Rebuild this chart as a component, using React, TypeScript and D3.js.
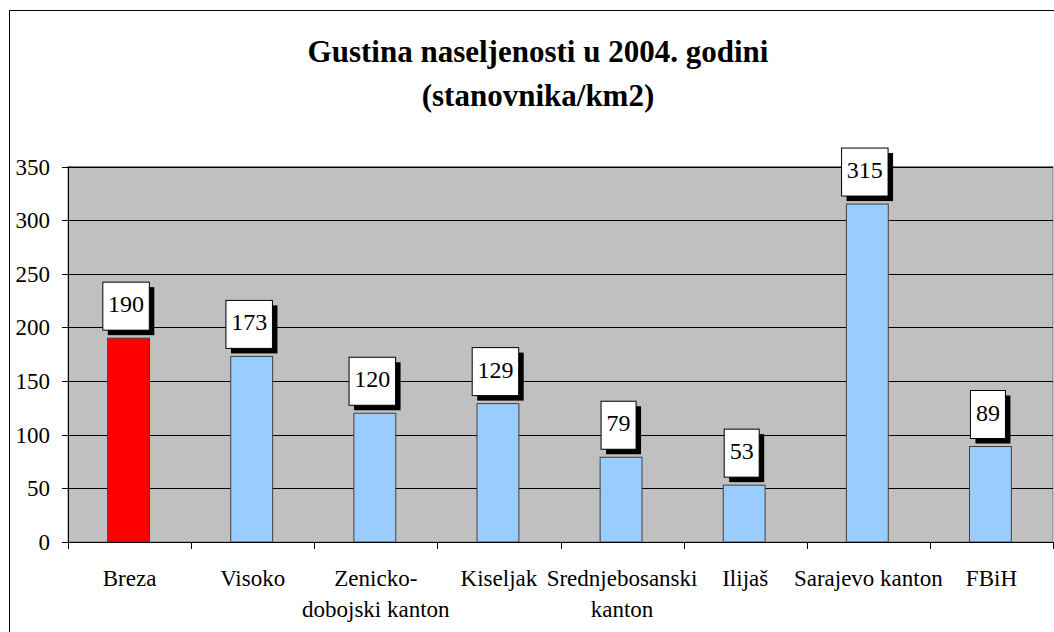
import React from "react";
import * as d3 from "d3";

const categories: string[][] = [
  ["Breza"],
  ["Visoko"],
  ["Zenicko-", "dobojski kanton"],
  ["Kiseljak"],
  ["Srednjebosanski", "kanton"],
  ["Ilijaš"],
  ["Sarajevo kanton"],
  ["FBiH"],
];
const values: number[] = [190, 173, 120, 129, 79, 53, 315, 89];
const barColors: string[] = ["#FF0000", "#99CCFF", "#99CCFF", "#99CCFF", "#99CCFF", "#99CCFF", "#99CCFF", "#99CCFF"];
const yTicks: number[] = [0, 50, 100, 150, 200, 250, 300, 350];
const titleLines: string[] = ["Gustina naseljenosti u 2004. godini", "(stanovnika/km2)"];

const W = 1054;
const H = 632;
const left = 68;
const right = 1053;
const top = 166.5;
const bottom = 542;
const font = "Liberation Serif, Times New Roman, DejaVu Serif, serif";

export default function App() {
  const idx = values.map((_, i) => String(i));
  const x = d3.scaleBand<string>().domain(idx).range([left, right]).paddingInner(0.66).paddingOuter(0.33);
  const y = d3.scaleLinear().domain([0, 350]).range([bottom, top]);
  const step = x.step();
  const boundaries = d3.range(values.length + 1).map((i) => left + i * step);
  const ts: React.CSSProperties = { fontFamily: font };

  return (
    <svg width={W} height={H} style={{ position: "absolute", left: 0, top: 0, background: "#fff", fontFamily: font }}>
      <rect x={9.5} y={10.5} width={1100} height={700} fill="#fff" stroke="#000" strokeWidth={1} />
      {titleLines.map((t, i) => (
        <text key={t} x={538} y={62 + i * 44} textAnchor="middle" fontWeight="bold" fontSize={31} fill="#000" style={ts}>
          {t}
        </text>
      ))}
      <rect x={left} y={top} width={right - left} height={bottom - top} fill="#C0C0C0" stroke="#808080" strokeWidth={1} />
      {yTicks.filter((t) => t > 0).map((t) => (
        <line key={"g" + t} x1={left} x2={right} y1={Math.round(y(t)) + 0.5} y2={Math.round(y(t)) + 0.5} stroke="#000" strokeWidth={1} />
      ))}
      {yTicks.map((t) => (
        <g key={"t" + t}>
          <line x1={left - 6} x2={left} y1={Math.round(y(t)) + 0.5} y2={Math.round(y(t)) + 0.5} stroke="#000" />
          <text x={50} y={y(t) + 8} textAnchor="end" fontSize={23} fill="#000" style={ts}>
            {t}
          </text>
        </g>
      ))}
      {values.map((v, i) => {
        const bx = (x(String(i)) as number) - 1;
        const bw = x.bandwidth();
        const by = y(v);
        const label = String(v);
        const boxW = label.length * 11.5 + 12;
        const boxH = 48;
        const cx = bx + bw / 2 - 2.5;
        const boxX = cx - boxW / 2;
        const boxY = by - 8 - boxH;
        return (
          <g key={"b" + i}>
            <rect x={bx} y={by} width={bw} height={bottom - by} fill={barColors[i]} stroke="#404040" strokeWidth={1} />
            <rect x={boxX + 5} y={boxY + 5} width={boxW} height={boxH} fill="#000" />
            <rect x={boxX} y={boxY} width={boxW} height={boxH} fill="#fff" stroke="#000" strokeWidth={1} />
            <text x={cx} y={boxY + 30} textAnchor="middle" fontSize={24} fill="#000" style={ts}>
              {label}
            </text>
          </g>
        );
      })}
      <line x1={left + 0.5} x2={left + 0.5} y1={top} y2={bottom} stroke="#000" />
      <line x1={left} x2={right} y1={bottom + 0.5} y2={bottom + 0.5} stroke="#000" />
      {boundaries.map((b, i) => (
        <line key={"xt" + i} x1={Math.round(b) + 0.5} x2={Math.round(b) + 0.5} y1={bottom} y2={bottom + 7} stroke="#000" />
      ))}
      {categories.map((lines, i) => (
        <text key={"c" + i} textAnchor="middle" fontSize={23} fill="#000" style={ts}>
          {lines.map((l, j) => (
            <tspan key={j} x={left + (i + 0.5) * step} y={585.5 + j * 31}>
              {l}
            </tspan>
          ))}
        </text>
      ))}
    </svg>
  );
}
